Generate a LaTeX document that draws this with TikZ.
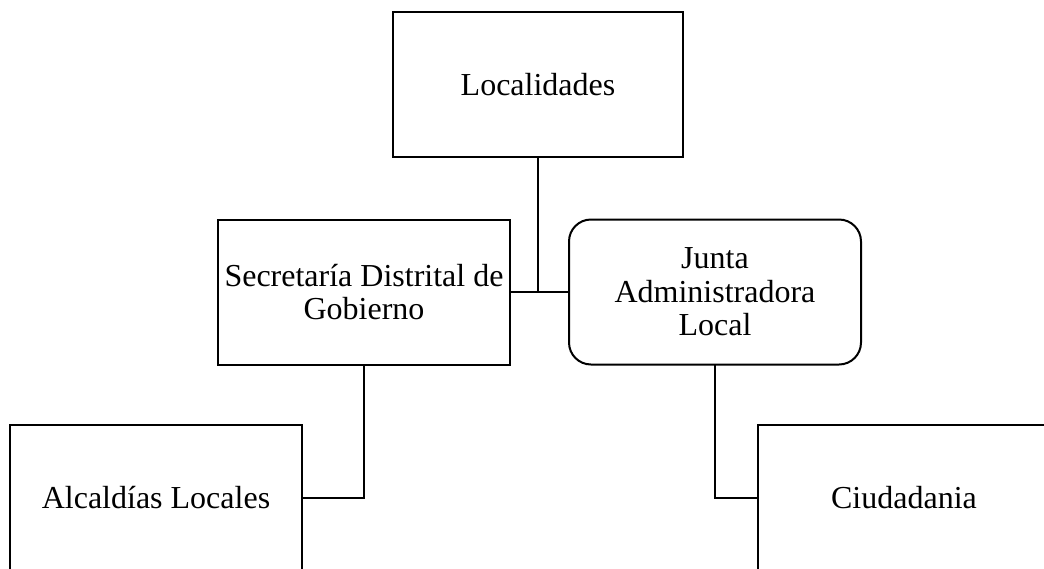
\documentclass[tikz,border=0pt]{standalone}
\usepackage{fontspec}
\setmainfont{Liberation Serif}
\begin{document}
\begin{tikzpicture}[x=0.5pt,y=-0.5pt,
  orgbox/.style={draw=black,line width=1pt,inner sep=0pt,outer sep=0pt,
    minimum width=146pt,minimum height=72.5pt,align=center,
    font=\fontsize{16}{16.8}\selectfont},
  roundbox/.style={orgbox,rounded corners=11pt},
  link/.style={draw=black,line width=1pt}]
\useasboundingbox (0,0) rectangle (1044,568);
\clip (0,0) rectangle (1044,568);
\node[orgbox,minimum width=145pt] (loc) at (538,84.5) {Localidades};
\node[orgbox] (sec) at (364,292) {Secretaría Distrital de\\Gobierno};
\node[roundbox] (jun) at (715,292) {Junta\\Administradora\\Local};
\node[orgbox] (alc) at (156,497.5) {Alcaldías Locales};
\node[orgbox] (ciu) at (904,497.5) {Ciudadania};
\draw[link] (loc.south) -- (loc.south |- sec.east);
\draw[link] (sec.east) -- (jun.west);
\draw[link] (sec.south) |- (alc.east);
\draw[link] (jun.south) |- (ciu.west);
\end{tikzpicture}
\end{document}
